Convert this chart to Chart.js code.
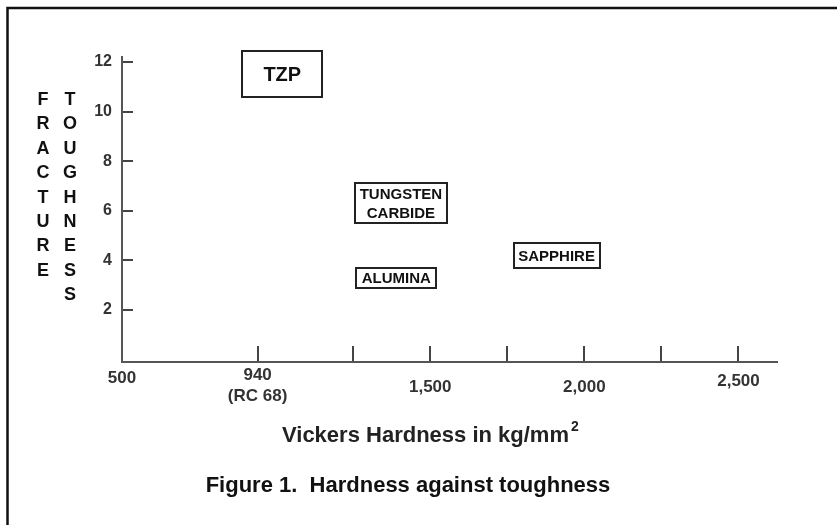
<!DOCTYPE html>
<html lang="en">
<head>
    <meta charset="UTF-8">
    <title>Hardness against toughness</title>
    <script src="https://cdn.jsdelivr.net/npm/chart.js"></script>
    <style>
        body { margin: 0; background: #ffffff; }
        canvas { display: block; }
    </style>
</head>
<body>
    <canvas id="chart" width="837" height="525"></canvas>
    <script>
        // each material is drawn as a boxed label at (hardness, toughness)
        const materials = [['TZP'], ['TUNGSTEN', 'CARBIDE'], ['ALUMINA'], ['SAPPHIRE']];
        const hardness = [1020, 1405, 1390, 1910];
        const toughness = [11.5, 6.3, 3.3, 4.2];

        const yTicks = [2, 4, 6, 8, 10, 12];
        const xTicks = [500, 940, 1250, 1500, 1750, 2000, 2250, 2500];
        const xTickLabels = ['500', ['940', '(RC 68)'], '', '1,500', '', '2,000', '', '2,500'];

        // box width, height and font size for each label
        const boxSizes = [[80, 46, 20], [92, 40, 15], [80, 20, 15], [86, 25, 15]];
        // the scanned tick labels don't sit on one line
        const xLabelDrop = [16, 13, 0, 25, 0, 25, 0, 19];

        const FONT = '"Liberation Sans", Arial, sans-serif';

        const figurePlugin = {
            id: 'figure',
            beforeDraw(chart) {
                const ctx = chart.ctx;
                ctx.save();
                ctx.fillStyle = '#ffffff';
                ctx.fillRect(0, 0, chart.width, chart.height);
                // frame: only top and left edges are in the crop
                ctx.strokeStyle = '#111';
                ctx.lineWidth = 2.5;
                ctx.beginPath();
                ctx.moveTo(7.5, chart.height);
                ctx.lineTo(7.5, 8);
                ctx.lineTo(chart.width, 8);
                ctx.stroke();
                ctx.restore();
            },
            afterDraw(chart) {
                const ctx = chart.ctx;
                const xs = chart.scales.x;
                ctx.save();
                ctx.textAlign = 'center';
                ctx.textBaseline = 'middle';

                // x tick labels
                ctx.fillStyle = '#333';
                ctx.font = 'bold 17px ' + FONT;
                xTicks.forEach((v, i) => {
                    const lines = [].concat(xTickLabels[i]);
                    const px = xs.getPixelForValue(v);
                    lines.forEach((t, j) => ctx.fillText(t, px, xs.top + xLabelDrop[i] + j * 21));
                });

                // boxed material labels
                const meta = chart.getDatasetMeta(0);
                meta.data.forEach((pt, i) => {
                    const [w, h, size] = boxSizes[i];
                    ctx.strokeStyle = '#222';
                    ctx.lineWidth = 2;
                    ctx.strokeRect(Math.round(pt.x - w / 2), Math.round(pt.y - h / 2), w, h);
                    ctx.fillStyle = '#111';
                    ctx.font = 'bold ' + size + 'px ' + FONT;
                    const lines = materials[i];
                    const lh = size + 4;
                    lines.forEach((t, j) => ctx.fillText(t, pt.x, pt.y + 1 + (j - (lines.length - 1) / 2) * lh));
                });

                // y title, stacked letters in two columns
                ctx.fillStyle = '#111';
                ctx.font = 'bold 18px ' + FONT;
                [...'FRACTURE'].forEach((c, j) => ctx.fillText(c, 43, 100 + j * 24.4));
                [...'TOUGHNESS'].forEach((c, j) => ctx.fillText(c, 70, 100 + j * 24.4));

                // x title with superscript
                ctx.fillStyle = '#222';
                ctx.textAlign = 'left';
                ctx.font = 'bold 22px ' + FONT;
                const title = 'Vickers Hardness in kg/mm';
                ctx.fillText(title, 282, 436);
                const tw = ctx.measureText(title).width;
                ctx.font = 'bold 14px ' + FONT;
                ctx.fillText('2', 282 + tw + 2, 427);

                // caption
                ctx.fillStyle = '#111';
                ctx.textAlign = 'center';
                ctx.font = 'bold 22px ' + FONT;
                ctx.fillText('Figure 1.  Hardness against toughness', 408, 486);
                ctx.restore();
            }
        };

        new Chart(document.getElementById('chart'), {
            type: 'scatter',
            data: {
                datasets: [{
                    data: hardness.map((h, i) => ({ x: h, y: toughness[i] })),
                    pointRadius: 0,
                    pointHoverRadius: 0
                }]
            },
            options: {
                responsive: false,
                animation: false,
                layout: { padding: { top: 57, right: 60, bottom: 0, left: 0 } },
                plugins: {
                    legend: { display: false },
                    tooltip: { enabled: false }
                },
                scales: {
                    x: {
                        type: 'linear',
                        min: 500,
                        max: 2625,
                        afterBuildTicks: s => { s.ticks = xTicks.map(v => ({ value: v })); },
                        afterFit: s => { s.height = 163; },
                        ticks: { display: false },
                        grid: { drawOnChartArea: false, tickLength: -16, color: '#444', lineWidth: 2 },
                        border: { color: '#555', width: 2 }
                    },
                    y: {
                        min: -0.1,
                        max: 12.2,
                        afterBuildTicks: s => { s.ticks = yTicks.map(v => ({ value: v })); },
                        afterFit: s => { s.width = 122; },
                        ticks: {
                            color: '#333',
                            padding: 21,
                            font: { family: FONT, size: 16, weight: 'bold' }
                        },
                        grid: { drawOnChartArea: false, tickLength: -11, color: '#444', lineWidth: 2 },
                        border: { color: '#555', width: 2 }
                    }
                }
            },
            plugins: [figurePlugin]
        });
    </script>
</body>
</html>
